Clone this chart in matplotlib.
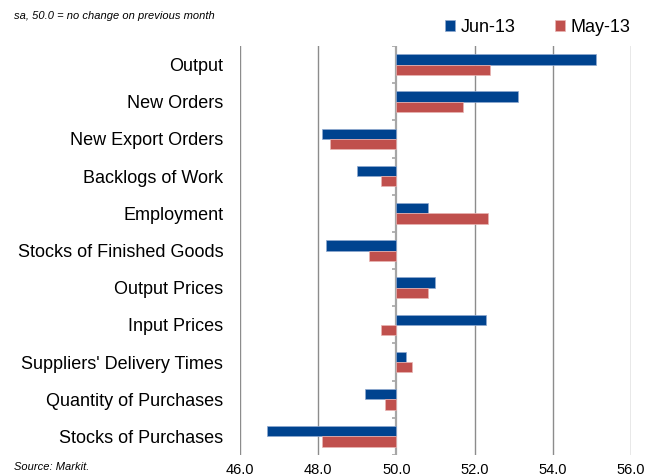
import matplotlib.pyplot as plt
import numpy as np

plt.rcParams['font.family'] = ['Liberation Sans', 'DejaVu Sans']

# %% Data
categories = ['Output', 'New Orders', 'New Export Orders', 'Backlogs of Work',
              'Employment', 'Stocks of Finished Goods', 'Output Prices',
              'Input Prices', "Suppliers' Delivery Times",
              'Quantity of Purchases', 'Stocks of Purchases']
jun_13 = [55.1, 53.1, 48.1, 49.0, 50.8, 48.2, 51.0, 52.3, 50.25, 49.2, 46.7]
may_13 = [52.4, 51.7, 48.3, 49.6, 52.35, 49.3, 50.8, 49.6, 50.4, 49.7, 48.1]
x_ticks = [46.0, 48.0, 50.0, 52.0, 54.0, 56.0]
base = 50.0

blue = '#00438F'
red = '#C0504D'
grid_col = '#8C8C8C'

# %% Plot
fig = plt.figure(figsize=(6.6, 4.76), dpi=100)
ax = fig.add_axes([240 / 660, 1 - 455 / 476, 391 / 660, 409 / 476])

y = np.arange(len(categories))
h = 0.277
jun = np.array(jun_13) - base
may = np.array(may_13) - base
ax.barh(y - h / 2, jun, height=h, left=base, color=blue,
        edgecolor='#8FA9D0', linewidth=0.5, label='Jun-13', zorder=3)
ax.barh(y + h / 2, may, height=h, left=base, color=red,
        edgecolor='#E8B4B3', linewidth=0.5, label='May-13', zorder=3)

ax.set_xlim(x_ticks[0], x_ticks[-1])
ax.set_ylim(len(categories) - 0.5, -0.5)

for xv in x_ticks:
    if xv == base:
        continue
    ax.axvline(xv, color=grid_col, lw=1.0, zorder=1)

# category axis at 50 with small tick marks between groups
ax.axvline(base, color='#A6A6A6', lw=1.6, zorder=2)
bounds = np.arange(len(categories) + 1) - 0.5
ax.hlines(bounds, base - 0.1, base, color='#A6A6A6', lw=1.2, zorder=2)

ax.set_yticks(y)
ax.set_yticklabels(categories, fontsize=13, color='#000000')
ax.tick_params(axis='y', length=0, pad=12)
ax.set_xticks(x_ticks)
ax.set_xticklabels([f'{v:.1f}' for v in x_ticks], fontsize=10.5)
ax.tick_params(axis='x', length=0, pad=6)
for s in ax.spines.values():
    s.set_visible(False)

fig.text(14 / 660, 1 - 16 / 476, 'sa, 50.0 = no change on previous month',
         fontsize=8, style='italic', va='center', ha='left')
fig.text(14 / 660, 1 - 467 / 476, 'Source: Markit.',
         fontsize=8, style='italic', va='center', ha='left')

fig.legend(loc='center', bbox_to_anchor=(538 / 660, 1 - 27 / 476), ncol=2,
           frameon=False, fontsize=13, handlelength=0.55, handleheight=0.55,
           handletextpad=0.3, columnspacing=2.2)

fig.savefig('out.png', dpi=100)
